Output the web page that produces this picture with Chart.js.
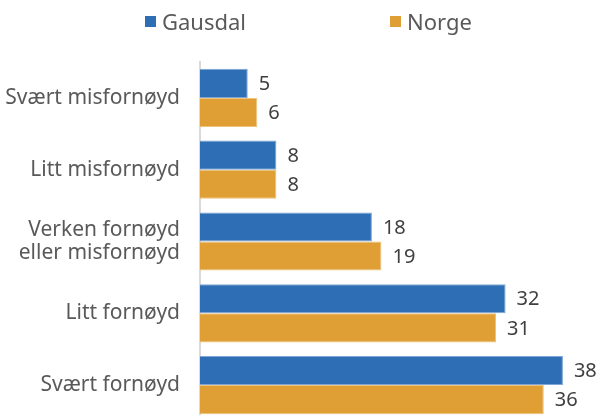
<!DOCTYPE html>
<html>
<head>
<meta charset="utf-8">
<script src="https://cdn.jsdelivr.net/npm/chart.js@4/dist/chart.umd.min.js"></script>
<style>
	html, body { margin: 0; padding: 0; background: #fff; overflow: hidden; }
	#wrap { position: relative; width: 597px; height: 421px; }
	#legend {
		position: absolute; top: 8px; left: 0; width: 597px; height: 26px;
		font-family: "Noto Sans", sans-serif; font-size: 22px; color: #595959;
	}
	#legend .item { position: absolute; top: 0; display: flex; align-items: center; height: 26px; }
	#legend .box { width: 11px; height: 11px; margin-right: 6px; }
	canvas { display: block; }
</style>
</head>
<body>
<div id="wrap">
	<div id="legend"></div>
	<canvas id="myChart" width="597" height="421"></canvas>
</div>
<script>
const categories = [
	'Svært misfornøyd',
	'Litt misfornøyd',
	['Verken fornøyd', 'eller misfornøyd'],
	'Litt fornøyd',
	'Svært fornøyd'
];
const seriesNames = ['Gausdal', 'Norge'];
const gausdal = [5, 8, 18, 32, 38];
const norge = [6, 8, 19, 31, 36];

const colors = ['#2E6EB4', '#E09F35'];
const edges = ['#7FA6D6', '#EDC27A'];
const fontFamily = '"Noto Sans", sans-serif';

// value labels to the right of each bar
const valueLabels = {
	id: 'valueLabels',
	afterDatasetsDraw(chart) {
		const ctx = chart.ctx;
		ctx.save();
		ctx.font = '20px ' + fontFamily;
		ctx.fillStyle = '#404040';
		ctx.textAlign = 'left';
		ctx.textBaseline = 'middle';
		chart.data.datasets.forEach((ds, i) => {
			chart.getDatasetMeta(i).data.forEach((bar, j) => {
				ctx.fillText(ds.data[j], bar.x + 11, bar.y + 1);
			});
		});
		ctx.restore();
	}
};

function createBarChart(elID) {
	let ctx = document.getElementById(elID).getContext('2d');
	return new Chart(ctx, {
		type: 'bar',
		data: {
			labels: categories,
			datasets: [
				{
					label: seriesNames[0],
					data: gausdal,
					backgroundColor: colors[0],
					borderColor: edges[0],
					borderWidth: 1
				},
				{
					label: seriesNames[1],
					data: norge,
					backgroundColor: colors[1],
					borderColor: edges[1],
					borderWidth: 1
				}
			]
		},
		options: {
			indexAxis: 'y',
			responsive: false,
			animation: false,
			layout: { padding: { top: 62, right: 15, bottom: 0, left: 0 } },
			categoryPercentage: 0.81,
			barPercentage: 1,
			plugins: {
				legend: { display: false },
				tooltip: { enabled: false }
			},
			scales: {
				x: {
					display: false,
					min: 0,
					max: 40
				},
				y: {
					afterFit(scale) {
						scale.width = 200;
						scale.paddingTop = 0;
						scale.paddingBottom = 0;
					},
					grid: { display: false, drawTicks: false },
					border: { display: true, color: '#D9D9D9', width: 2 },
					ticks: {
						padding: 20,
						color: '#595959',
						font: { family: fontFamily, size: 21, lineHeight: 1.1 }
					}
				}
			}
		},
		plugins: [valueLabels]
	});
}

createBarChart('myChart');

// legend row above the plot
const legendEl = document.getElementById('legend');
const legendLeft = [145, 390];
seriesNames.forEach((name, i) => {
	const item = document.createElement('div');
	item.className = 'item';
	item.style.left = legendLeft[i] + 'px';
	const box = document.createElement('span');
	box.className = 'box';
	box.style.background = colors[i];
	const txt = document.createElement('span');
	txt.textContent = name;
	item.appendChild(box);
	item.appendChild(txt);
	legendEl.appendChild(item);
});
</script>
</body>
</html>
